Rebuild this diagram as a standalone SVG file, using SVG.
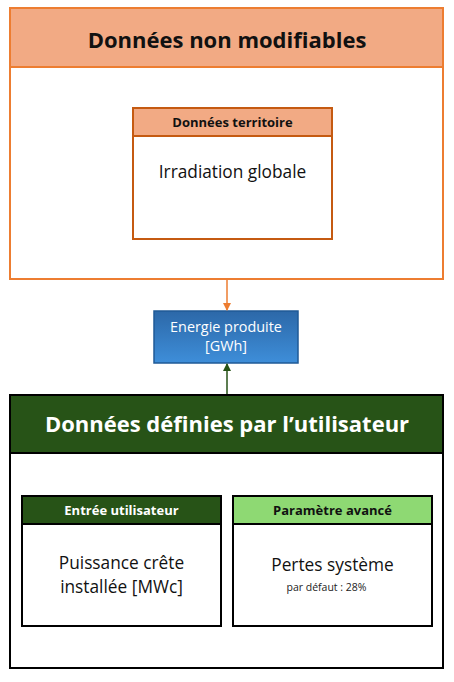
<svg xmlns="http://www.w3.org/2000/svg" width="454" height="682" viewBox="0 0 454 682">
<style>
text{font-family:"Open Sans","Liberation Sans",sans-serif;text-anchor:middle}
.h1{font-size:22px;font-weight:700}
.h2{font-size:13px;font-weight:700}
.b{font-size:17.3px;fill:#111}
.s{font-size:10.5px;fill:#222}
</style>
<defs>
<linearGradient id="blue" x1="0" y1="0" x2="0" y2="1">
<stop offset="0" stop-color="#2C68A8"/>
<stop offset="1" stop-color="#3E8ED9"/>
</linearGradient>
<marker id="ao" markerWidth="8" markerHeight="8" refX="7" refY="4" orient="auto" markerUnits="userSpaceOnUse"><path d="M0,0 L8,4 L0,8 z" fill="#ED7D31"/></marker>
<marker id="ag" markerWidth="8" markerHeight="8" refX="7" refY="4" orient="auto" markerUnits="userSpaceOnUse"><path d="M0,0 L8,4 L0,8 z" fill="#275317"/></marker>
</defs>
<g id="donnees-non-modifiables">
<rect x="10" y="8" width="433" height="271" fill="#fff" stroke="#ED7D31" stroke-width="2"/>
<rect x="10" y="8" width="433" height="59" fill="#F2AA84" stroke="#ED7D31" stroke-width="2"/>
<text class="h1" x="227" y="48" fill="#111">Données non modifiables</text>
</g>
<g id="donnees-territoire">
<rect x="133" y="108" width="199" height="131" fill="#fff" stroke="#C55A11" stroke-width="2"/>
<rect x="133" y="108" width="199" height="28" fill="#F2AA84" stroke="#C55A11" stroke-width="2"/>
<text class="h2" x="232.5" y="127" fill="#111">Données territoire</text>
<text class="b" x="232.5" y="178">Irradiation globale</text>
</g>
<g id="energie">
<rect x="154" y="311" width="144" height="52" fill="url(#blue)" stroke="#1F5A96" stroke-width="1.5"/>
<text x="226" y="332" font-size="14.4" fill="#fff">Energie produite</text>
<text x="226" y="351" font-size="14.4" fill="#fff">[GWh]</text>
</g>
<g id="donnees-utilisateur">
<rect x="10" y="395" width="433" height="273" fill="#fff" stroke="#000" stroke-width="2"/>
<rect x="10" y="395" width="433" height="58" fill="#275317" stroke="#000" stroke-width="2"/>
<text class="h1" x="227" y="432" fill="#fff">Données définies par l’utilisateur</text>
</g>
<g id="entree-utilisateur">
<rect x="22" y="496" width="199" height="130" fill="#fff" stroke="#000" stroke-width="2"/>
<rect x="22" y="496" width="199" height="28" fill="#275317" stroke="#000" stroke-width="2"/>
<text class="h2" x="121.5" y="515" fill="#fff">Entrée utilisateur</text>
<text class="b" x="121.5" y="569">Puissance crête</text>
<text class="b" x="121.5" y="593">installée [MWc]</text>
</g>
<g id="parametre-avance">
<rect x="233" y="496" width="199" height="130" fill="#fff" stroke="#000" stroke-width="2"/>
<rect x="233" y="496" width="199" height="28" fill="#8ED973" stroke="#000" stroke-width="2"/>
<text class="h2" x="332.5" y="515" fill="#111">Paramètre avancé</text>
<text class="b" x="332.5" y="571">Pertes système</text>
<text class="s" x="326.5" y="591">par défaut : 28%</text>
</g>
<g id="connectors">
<line x1="227" y1="280" x2="227" y2="310" stroke="#ED7D31" stroke-width="1.5" marker-end="url(#ao)"/>
<line x1="227" y1="394" x2="227" y2="364" stroke="#275317" stroke-width="1.5" marker-end="url(#ag)"/>
</g>
</svg>
